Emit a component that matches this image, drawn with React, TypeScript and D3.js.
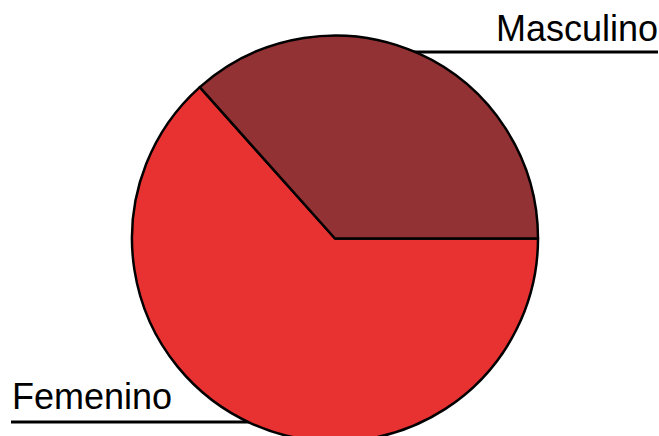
import React from "react";
import * as d3 from "d3";

const categories = ["Femenino", "Masculino"];
const values = [63.4, 36.6];
const colors = ["#e83232", "#933234"];

const W = 659;
const H = 436;

export default function App() {
  const cx = 335;
  const cy = 238.5;
  const r = 203;
  const pie = d3
    .pie<number>()
    .sort(null)
    .startAngle(Math.PI / 2)
    .endAngle(Math.PI / 2 + 2 * Math.PI)(values);
  const arc = d3.arc<d3.PieArcDatum<number>>().innerRadius(0).outerRadius(r);

  return (
    <svg
      width={W}
      height={H}
      style={{ position: "absolute", left: 0, top: 0, background: "#fff" }}
      fontFamily="'Liberation Sans', Arial, sans-serif"
    >
      {/* label leader lines under the pie */}
      <line x1={cx} x2={658} y1={52} y2={52} stroke="#000" strokeWidth={3} />
      <line x1={11} x2={cx} y1={422} y2={422} stroke="#000" strokeWidth={3} />
      <g transform={`translate(${cx},${cy})`}>
        {pie.map((d, i) => (
          <path
            key={categories[i]}
            d={arc(d) || ""}
            fill={colors[i]}
            stroke="#000"
            strokeWidth={2.5}
            strokeLinejoin="round"
          />
        ))}
      </g>
      <text x={658} y={41} fontSize={36} textAnchor="end" fill="#000">
        {categories[1]}
      </text>
      <text x={12} y={409} fontSize={36} textAnchor="start" fill="#000">
        {categories[0]}
      </text>
    </svg>
  );
}
